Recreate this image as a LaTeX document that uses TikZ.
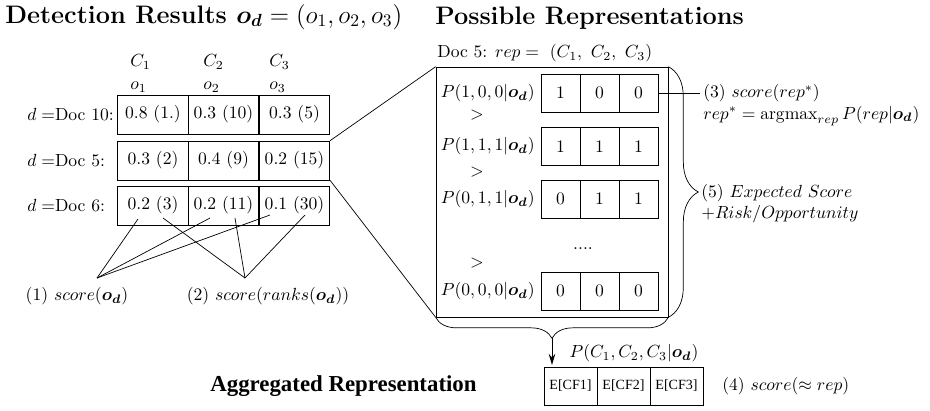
\documentclass[tikz,border=0pt]{standalone}
\usepackage{amsmath,amssymb}
\usepackage{fontspec}
\newfontfamily\timesfont{Liberation Serif}
\usetikzlibrary{decorations.pathreplacing,arrows.meta}

\begin{document}
\begin{tikzpicture}[x=0.02cm, y=-0.02cm,
  txt/.style={inner sep=0pt},
  cell/.style={draw, minimum width=1.41cm, minimum height=0.78cm, inner sep=0pt},
  bit/.style={draw, minimum width=0.78cm, minimum height=0.76cm, inner sep=0pt},
  ecell/.style={draw, minimum width=1.06cm, minimum height=0.76cm, inner sep=0pt, font=\timesfont\footnotesize},
  brace/.style={decorate, decoration={brace, amplitude=#1}}]
  \useasboundingbox (0,0) rectangle (930,410);
  \node[txt, anchor=base west] (t1) at (5,23) {\Large\bfseries Detection Results $\boldsymbol{o_d} = (o_1, o_2, o_3)$};
  \node[txt, anchor=base west] (t2) at (435,24) {\Large\bfseries Possible Representations};
  \node[txt, anchor=west] (h1) at (130,62) {$C_1$};
  \node[txt, anchor=west] (h2) at (203,62) {$C_2$};
  \node[txt, anchor=west] (h3) at (269,62) {$C_3$};
  \node[txt, anchor=west] (o1) at (130,87) {$o_1$};
  \node[txt, anchor=west] (o2) at (203,87) {$o_2$};
  \node[txt, anchor=west] (o3) at (269,87) {$o_3$};
  \node[txt, anchor=west] (d1) at (27,114.5) {$d =$Doc 10:};
  \node[txt, anchor=west] (d2) at (27,160.5) {$d =$Doc 5:};
  \node[txt, anchor=west] (d3) at (27,205.5) {$d =$Doc 6:};
  \node[cell] (a1) at (153,114.5) {0.8 (1.)};
  \node[cell] (a2) at (223.5,114.5) {0.3 (10)};
  \node[cell] (a3) at (294.5,114.5) {0.3 (5)};
  \node[cell] (b1) at (153,160.5) {0.3 (2)};
  \node[cell] (b2) at (223.5,160.5) {0.4 (9)};
  \node[cell] (b3) at (294.5,160.5) {0.2 (15)};
  \node[cell] (c1) at (153,205.5) {0.2 (3)};
  \node[cell] (c2) at (223.5,205.5) {0.2 (11)};
  \node[cell] (c3) at (294.5,205.5) {0.1 (30)};
  \node[txt] (f1) at (77,296) {(1) $score(\boldsymbol{o_d})$};
  \node[txt] (f2) at (268,296) {(2) $score(ranks(\boldsymbol{o_d}))$};
  \coordinate (k1) at (97,278);
  \coordinate (k2) at (245,278);
  \coordinate (s1) at (138,219);
  \coordinate (s2) at (210,218);
  \coordinate (s3) at (270,215);
  \coordinate (s4) at (163,218);
  \coordinate (s5) at (235,218);
  \coordinate (s6) at (305,215);
  \draw (s1) -- (k1);
  \draw (s2) -- (k1);
  \draw (s3) -- (k1);
  \draw (s4) -- (k2);
  \draw (s5) -- (k2);
  \draw (s6) -- (k2);
  \node[draw, minimum width=4.64cm, minimum height=5cm] (rep) at (552,192) {};
  \node[txt, anchor=west] (doc) at (437,53) {Doc 5: $rep = \ (C_1,\ C_2,\ C_3)$};
  \draw (b3.north east) -- (rep.north west);
  \draw (b3.south east) -- (rep.south west);
  \node[txt, anchor=east] (p1) at (535,93) {$P(1,0,0|\boldsymbol{o_d})$};
  \node[txt, anchor=east] (p2) at (535,146.5) {$P(1,1,1|\boldsymbol{o_d})$};
  \node[txt, anchor=east] (p3) at (535,199) {$P(0,1,1|\boldsymbol{o_d})$};
  \node[txt, anchor=east] (p4) at (535,291) {$P(0,0,0|\boldsymbol{o_d})$};
  \node[txt] (g1) at (477,115) {$>$};
  \node[txt] (g2) at (477,172) {$>$};
  \node[txt] (g3) at (477,263) {$>$};
  \node[txt] (dots) at (583,249) {....};
  \node[bit] (r1a) at (560.5,93) {1};
  \node[bit] (r1b) at (599.5,93) {0};
  \node[bit] (r1c) at (638.5,93) {0};
  \node[bit] (r2a) at (560.5,146.5) {1};
  \node[bit] (r2b) at (599.5,146.5) {1};
  \node[bit] (r2c) at (638.5,146.5) {1};
  \node[bit] (r3a) at (560.5,199) {0};
  \node[bit] (r3b) at (599.5,199) {1};
  \node[bit] (r3c) at (638.5,199) {1};
  \node[bit] (r4a) at (560.5,291) {0};
  \node[bit] (r4b) at (599.5,291) {0};
  \node[bit] (r4c) at (638.5,291) {0};
  \coordinate (m3) at (700,93);
  \draw (r1c.east) -- (m3);
  \node[txt, anchor=west] (n3) at (703,93) {(3) $score(rep^*)$};
  \node[txt, anchor=west] (n3b) at (703,116) {$rep^* = \operatorname{argmax}_{rep} P(rep|\boldsymbol{o_d})$};
  \draw[brace=0.6cm] (rep.north east) -- (rep.south east);
  \node[txt, anchor=west] (n5) at (701,193) {(5) $Expected~Score$};
  \node[txt, anchor=west] (n5b) at (701,214) {$+Risk/Opportunity$};
  \draw[brace=0.42cm] (rep.south east) -- (rep.south west);
  \coordinate (tip) at (552,338);
  \node[ecell] (e1) at (570.5,386) {E[CF1]};
  \node[ecell] (e2) at (623.5,386) {E[CF2]};
  \node[ecell] (e3) at (676.5,386) {E[CF3]};
  \draw[-{Stealth[length=2.2mm, width=1.3mm]}] (tip) -- ([yshift=1pt]tip |- e1.north);
  \node[txt] (pc) at (634,353) {$P(C_1, C_2, C_3|\boldsymbol{o_d})$};
  \node[txt, anchor=west] (n4) at (722,386) {(4) $score(\approx rep)$};
  \node[txt, anchor=west] (agg) at (210,386) {\timesfont\bfseries\fontsize{13}{15}\selectfont Aggregated Representation};
\end{tikzpicture}
\end{document}
